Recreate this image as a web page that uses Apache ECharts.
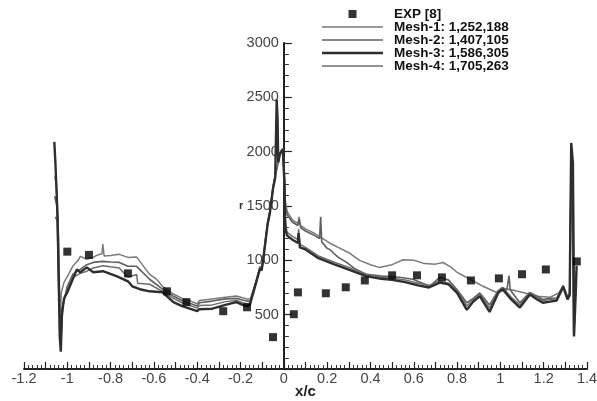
<!DOCTYPE html>
<html>
<head>
<meta charset="utf-8">
<script src="https://cdn.jsdelivr.net/npm/echarts@6/dist/echarts.min.js"></script>
<style>html,body{margin:0;padding:0;background:#fff;}#c{width:597px;height:401px;}</style>
</head>
<body>
<div id="c"></div>
<script>
// ---- data ----
const seriesNames = ['EXP [8]', 'Mesh-1: 1,252,188', 'Mesh-2: 1,407,105', 'Mesh-3: 1,586,305', 'Mesh-4: 1,705,263'];
const xRange = [-1.2, 1.4];
const yRange = [0, 3000];

const expData = [[-1.0,1080],[-0.9,1050],[-0.72,880],[-0.54,715],[-0.45,615],[-0.28,532],[-0.17,568],[-0.05,293],
  [0.046,504],[0.065,705],[0.194,697],[0.286,752],[0.374,815],[0.5,862],[0.615,862],[0.73,843],[0.864,815],
  [0.993,834],[1.1,872],[1.21,916],[1.353,990]];

const mesh1 = [[-1.058,1770],[-1.05,1700],[-1.04,1200],[-1.033,400],[-1.028,700],[-1.015,800],[-1.0,850],[-0.975,945],
  [-0.95,1000],[-0.94,1037],[-0.91,1010],[-0.88,1027],[-0.86,1050],[-0.84,1060],[-0.836,1150],[-0.83,1040],[-0.8,1045],
  [-0.76,1055],[-0.72,1027],[-0.68,1030],[-0.665,990],[-0.62,871],[-0.59,830],[-0.56,761],[-0.51,690],[-0.47,650],
  [-0.43,625],[-0.40,600],[-0.39,630],[-0.33,645],[-0.27,660],[-0.22,672],[-0.19,655],[-0.17,645],[-0.155,645],
  [-0.13,800],[-0.11,945],[-0.103,925],[-0.097,1000],[-0.075,1350],[-0.065,1450],[-0.05,1680],[-0.032,1860],
  [-0.018,1990],[-0.005,2030],[0,2020],[0.003,1800],[0.006,1560],[0.015,1450],[0.04,1370],[0.065,1340],[0.07,1400],
  [0.078,1320],[0.1,1290],[0.14,1250],[0.18,1200],[0.22,1150],[0.26,1110],[0.3,1070],[0.35,1000],[0.4,960],[0.44,935],
  [0.5,960],[0.55,1005],[0.6,1000],[0.65,970],[0.7,965],[0.735,980],[0.77,940],[0.8,890],[0.86,826],[0.92,761],
  [0.98,706],[1.04,734],[1.1,706],[1.17,670],[1.23,660],[1.27,700],[1.29,761],[1.31,670],[1.32,700],[1.328,1900],
  [1.336,1700],[1.342,400],[1.35,900]];

const mesh2 = [[-1.058,1590],[-1.048,1500],[-1.038,600],[-1.03,250],[-1.025,550],[-1.0,761],[-0.975,870],[-0.94,917],
  [-0.91,960],[-0.88,981],[-0.836,990],[-0.8,985],[-0.76,981],[-0.72,945],[-0.68,945],[-0.62,826],[-0.56,734],
  [-0.51,670],[-0.47,630],[-0.40,580],[-0.39,610],[-0.33,625],[-0.27,645],[-0.22,650],[-0.19,635],[-0.17,625],
  [-0.155,625],[-0.13,790],[-0.11,935],[-0.103,915],[-0.097,990],[-0.075,1340],[-0.065,1440],[-0.05,1670],
  [-0.032,1850],[-0.018,1985],[-0.005,2025],[0,2015],[0.003,1750],[0.006,1520],[0.015,1420],[0.04,1350],[0.065,1320],
  [0.07,1380],[0.078,1300],[0.1,1270],[0.14,1230],[0.165,1200],[0.17,1400],[0.175,1170],[0.2,1110],[0.212,1100],
  [0.25,1030],[0.29,981],[0.33,920],[0.383,871],[0.45,855],[0.49,853],[0.55,840],[0.596,826],[0.64,790],[0.674,761],
  [0.72,844],[0.76,820],[0.8,730],[0.845,610],[0.875,650],[0.905,700],[0.95,590],[0.99,720],[1.01,750],[1.03,730],
  [1.04,860],[1.045,730],[1.09,610],[1.136,705],[1.17,670],[1.196,640],[1.23,650],[1.26,650],[1.29,770],[1.31,660],
  [1.32,690],[1.326,1800],[1.334,1600],[1.34,350],[1.348,850]];

const mesh3 = [[-1.06,2090],[-1.055,1900],[-1.045,1400],[-1.035,300],[-1.03,160],[-1.025,500],[-1.015,650],[-1.0,706],
  [-0.975,826],[-0.956,917],[-0.94,890],[-0.91,935],[-0.88,890],[-0.836,900],[-0.82,890],[-0.77,853],[-0.72,807],
  [-0.7,761],[-0.665,734],[-0.62,715],[-0.56,706],[-0.51,615],[-0.47,578],[-0.40,532],[-0.39,550],[-0.33,555],
  [-0.27,590],[-0.22,615],[-0.19,590],[-0.17,578],[-0.157,590],[-0.13,780],[-0.11,925],[-0.103,905],[-0.097,980],
  [-0.075,1330],[-0.065,1430],[-0.05,1660],[-0.04,1760],[-0.033,2480],[-0.029,2300],[-0.026,1900],[-0.018,1980],
  [-0.005,2020],[0,2010],[0.003,1700],[0.006,1300],[0.014,1230],[0.04,1190],[0.065,1160],[0.068,1250],[0.074,1120],
  [0.1,1100],[0.16,1020],[0.23,965],[0.3,915],[0.38,855],[0.45,830],[0.5,820],[0.56,800],[0.62,770],[0.67,750],
  [0.72,795],[0.76,780],[0.8,700],[0.845,545],[0.875,620],[0.905,670],[0.95,525],[0.99,700],[1.01,735],[1.05,640],
  [1.09,565],[1.136,685],[1.17,640],[1.196,610],[1.23,620],[1.26,630],[1.29,755],[1.31,640],[1.32,680],[1.327,2080],
  [1.335,1900],[1.34,300],[1.348,700],[1.352,950]];

const mesh4 = [[-1.055,1400],[-1.045,1350],[-1.036,500],[-1.03,200],[-1.02,600],[-1.0,720],[-0.975,840],[-0.94,880],
  [-0.91,900],[-0.88,930],[-0.836,950],[-0.8,940],[-0.76,930],[-0.72,844],[-0.68,870],[-0.675,790],[-0.62,780],
  [-0.56,715],[-0.51,650],[-0.47,610],[-0.40,560],[-0.39,585],[-0.33,590],[-0.27,620],[-0.22,630],[-0.19,610],
  [-0.17,600],[-0.156,605],[-0.13,785],[-0.11,930],[-0.103,910],[-0.097,985],[-0.075,1335],[-0.065,1435],
  [-0.05,1665],[-0.032,1845],[-0.018,1980],[-0.005,2020],[0,2012],[0.003,1720],[0.006,1400],[0.014,1260],
  [0.04,1220],[0.065,1190],[0.068,1290],[0.074,1150],[0.1,1120],[0.16,1040],[0.23,985],[0.3,935],[0.38,870],
  [0.45,845],[0.5,835],[0.56,820],[0.62,790],[0.67,770],[0.72,810],[0.76,790],[0.8,720],[0.845,580],[0.875,640],
  [0.905,690],[0.95,560],[0.99,720],[1.01,750],[1.05,660],[1.09,590],[1.136,700],[1.17,660],[1.196,630],[1.23,640],
  [1.26,650],[1.29,770],[1.31,660],[1.32,690],[1.324,1500],[1.332,1400],[1.338,320],[1.346,800]];

// ---- chart ----
const chart = echarts.init(document.getElementById('c'), null, {renderer: 'canvas'});
const font = 'Liberation Sans, Arial, sans-serif';
const W = 597, gridLeft = 24, gridRight = 10;
const lineStyles = [
  {color: '#7a7a7a', width: 1.5},
  {color: '#5f5f5f', width: 1.6},
  {color: '#2e2e2e', width: 2.4},
  {color: '#6c6c6c', width: 1.5}
];
const meshes = [mesh1, mesh2, mesh3, mesh4];
// y axis sits at x = 0: shift it from the left edge of the grid by the axis scale
const yAxisShift = (0 - xRange[0]) / (xRange[1] - xRange[0]) * (W - gridLeft - gridRight);

const series = [{
  name: seriesNames[0], type: 'scatter', data: expData, symbol: 'rect', symbolSize: 8,
  itemStyle: {color: '#000'}, z: 5
}];
meshes.forEach((d, i) => {
  series.push({
    name: seriesNames[i + 1], type: 'line', data: d, showSymbol: false, symbol: 'none',
    lineStyle: {color: lineStyles[i].color, width: lineStyles[i].width},
    itemStyle: {color: lineStyles[i].color}, z: i === 2 ? 4 : 3
  });
});
const lineIcon = 'path://M0,0 M61,10 M0,4.2h61v1.6h-61z';
const thickIcon = 'path://M0,0 M61,10 M0,3.8h61v2.4h-61z';

chart.setOption({
  animation: false,
  backgroundColor: '#fff',
  grid: {left: gridLeft, right: gridRight, top: 43, bottom: 32, containLabel: false, outerBoundsMode: 'none'},
  legend: {
    orient: 'vertical', left: 322, top: 7, padding: 0, itemWidth: 61, itemHeight: 10, itemGap: -1,
    textStyle: {fontFamily: font, fontWeight: 'bold', fontSize: 13.5, color: '#111', lineHeight: 12.5, padding: [0, 0, 0, 6]},
    data: [
      {name: seriesNames[0], icon: 'path://M0,0 M61,10 M26.5,1h8v8h-8z', itemStyle: {color: '#000'}},
      {name: seriesNames[1], icon: lineIcon}, {name: seriesNames[2], icon: lineIcon},
      {name: seriesNames[3], icon: thickIcon}, {name: seriesNames[4], icon: lineIcon}
    ]
  },
  xAxis: {
    type: 'value', min: xRange[0], max: xRange[1], interval: 0.1,
    name: 'x/c', nameLocation: 'middle', nameGap: 15, nameMoveOverlap: false,
    nameTextStyle: {fontFamily: font, fontWeight: 'bold', fontSize: 15, color: '#222'},
    axisLine: {onZero: false, lineStyle: {color: '#222', width: 2}},
    axisTick: {inside: true, length: 7, lineStyle: {color: '#222', width: 1.2}},
    minorTick: {show: true, splitNumber: 5, length: 4, lineStyle: {color: '#333', width: 1}},
    splitLine: {show: false},
    axisLabel: {
      fontFamily: font, fontSize: 14.5, color: '#444', margin: 2,
      formatter: function (v) {
        const k = Math.round(v * 10);
        if (k % 2 !== 0) return '';
        return String(k / 10);
      }
    }
  },
  yAxis: {
    type: 'value', min: yRange[0], max: yRange[1], interval: 500,
    offset: -yAxisShift,
    axisLine: {onZero: false, lineStyle: {color: '#222', width: 2}},
    axisTick: {inside: true, length: 8, lineStyle: {color: '#222', width: 1.2}},
    minorTick: {show: true, splitNumber: 5, length: 5, lineStyle: {color: '#333', width: 1}},
    splitLine: {show: false},
    axisLabel: {fontFamily: font, fontSize: 14.5, color: '#444', margin: 5, showMinLabel: false,
      formatter: function (v) { return String(v); }}
  },
  graphic: [{
    type: 'text', left: 239, top: 200,
    style: {text: 'r', fontFamily: font, fontWeight: 'bold', fontSize: 11, fill: '#333'}
  }],
  series: series
});
</script>
</body>
</html>
